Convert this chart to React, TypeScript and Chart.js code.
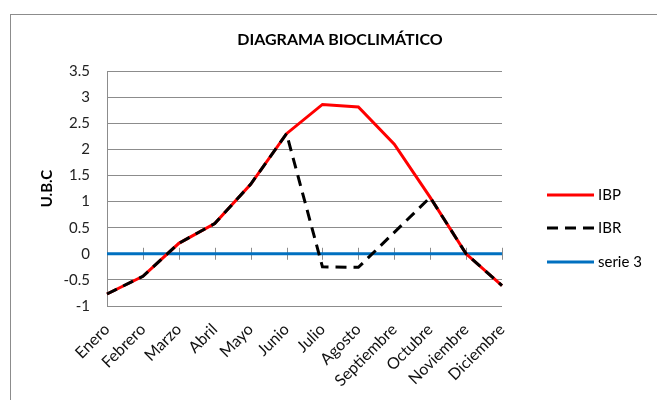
import React, { useEffect, useRef } from "react";
import { Chart, registerables } from "chart.js";

Chart.register(...registerables);

const months = [
  "Enero", "Febrero", "Marzo", "Abril", "Mayo", "Junio",
  "Julio", "Agosto", "Septiembre", "Octubre", "Noviembre", "Diciembre",
];
const ibp = [-0.77, -0.43, 0.2, 0.58, 1.33, 2.3, 2.86, 2.81, 2.1, 1.08, 0, -0.61];
const ibr = [-0.77, -0.43, 0.2, 0.58, 1.33, 2.3, -0.25, -0.26, 0.41, 1.08, 0, -0.61];
const serie3 = [0, 0, 0, 0, 0, 0, 0, 0, 0, 0, 0, 0];
const titleText = "DIAGRAMA BIOCLIMÁTICO";
const yTitle = "U.B.C";

const FONT = "Lato, 'Open Sans', sans-serif";

const decorPlugin = {
  id: "decor",
  beforeDraw(chart: any) {
    const ctx = chart.ctx;
    ctx.save();
    ctx.fillStyle = "#ffffff";
    ctx.fillRect(0, 0, chart.width, chart.height);
    ctx.strokeStyle = "#8c8c8c";
    ctx.lineWidth = 1;
    ctx.strokeRect(10.5, 14.5, 700, 500);
    ctx.restore();
  },
  beforeDatasetsDraw(chart: any) {
    const ctx = chart.ctx;
    const x = chart.scales.x;
    const y = chart.scales.y;
    const y0 = y.getPixelForValue(0);
    ctx.save();
    ctx.strokeStyle = "#8c8c8c";
    ctx.lineWidth = 1;
    for (let i = 0; i < months.length; i++) {
      const px = Math.round(x.getPixelForTick(i)) + 0.5;
      ctx.beginPath();
      ctx.moveTo(px, y0 - 6);
      ctx.lineTo(px, y0 + 6);
      ctx.stroke();
    }
    ctx.restore();
  },
  afterDraw(chart: any) {
    const ctx = chart.ctx;
    ctx.save();
    ctx.fillStyle = "#000000";
    ctx.font = `bold 16px ${FONT}`;
    ctx.textAlign = "center";
    ctx.textBaseline = "middle";
    ctx.fillText(titleText, 340, 40);

    const items = chart.data.datasets;
    const ys = [195, 228, 262];
    items.forEach((ds: any, i: number) => {
      const yy = ys[i];
      ctx.beginPath();
      ctx.strokeStyle = ds.borderColor;
      ctx.lineWidth = ds.borderWidth;
      ctx.setLineDash(ds.borderDash || []);
      ctx.moveTo(547, yy);
      ctx.lineTo(594, yy);
      ctx.stroke();
      ctx.setLineDash([]);
      ctx.fillStyle = "#000000";
      ctx.font = `15px ${FONT}`;
      ctx.textAlign = "left";
      ctx.textBaseline = "middle";
      ctx.fillText(ds.label, 598, yy);
    });
    ctx.restore();
  },
};

export default function App() {
  const ref = useRef<HTMLCanvasElement | null>(null);
  useEffect(() => {
    if (!ref.current) return;
    const chart = new Chart(ref.current, {
      type: "line",
      data: {
        labels: months,
        datasets: [
          {
            label: "IBP",
            data: ibp,
            borderColor: "#ff0000",
            backgroundColor: "#ff0000",
            borderWidth: 3,
            pointRadius: 0,
            tension: 0,
            order: 1,
          },
          {
            label: "IBR",
            data: ibr,
            borderColor: "#000000",
            backgroundColor: "#000000",
            borderWidth: 3,
            borderDash: [11, 7],
            pointRadius: 0,
            tension: 0,
            order: 0,
          },
          {
            label: "serie 3",
            data: serie3,
            borderColor: "#0070c0",
            backgroundColor: "#0070c0",
            borderWidth: 3,
            pointRadius: 0,
            tension: 0,
            order: 2,
          },
        ],
      },
      options: {
        animation: false,
        responsive: false,
        devicePixelRatio: 1,
        layout: { padding: { left: 10, top: 71, right: 155, bottom: 0 } },
        plugins: {
          legend: { display: false },
          title: { display: false },
          tooltip: { enabled: false },
        },
        scales: {
          x: {
            offset: false,
            grid: { display: false },
            border: { display: false },
            ticks: {
              autoSkip: false,
              minRotation: 45,
              maxRotation: 45,
              color: "#111111",
              font: { family: FONT, size: 16 },
              padding: 6,
            },
            afterFit: (s: any) => {
              s.height = 94;
            },
          },
          y: {
            min: -1,
            max: 3.5,
            ticks: {
              stepSize: 0.5,
              color: "#222222",
              font: { family: FONT, size: 15 },
              padding: 17,
              callback: (v: any) => String(v),
            },
            grid: { color: "#8c8c8c", drawTicks: false, lineWidth: 1 },
            border: { display: true, color: "#8c8c8c" },
            title: {
              display: true,
              text: yTitle,
              color: "#000000",
              font: { family: FONT, size: 15, weight: "bold" },
              padding: { top: 28, bottom: 0 },
            },
            afterFit: (s: any) => {
              s.width = 97;
            },
          },
        },
      },
      plugins: [decorPlugin],
    });
    return () => chart.destroy();
  }, []);
  return (
    <div style={{ position: "absolute", left: 0, top: 0, width: 657, height: 400 }}>
      <canvas ref={ref} width={657} height={400} />
    </div>
  );
}
